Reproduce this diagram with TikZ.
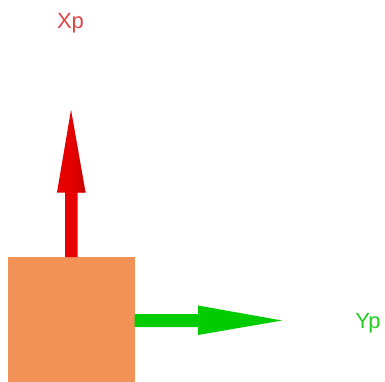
\documentclass[tikz,border=0pt]{standalone}
\usepackage{fontspec}
\setmainfont{Liberation Sans}
\definecolor{boxorange}{HTML}{F39256}
\definecolor{arrred}{HTML}{E60000}
\definecolor{arrgreen}{HTML}{00CC00}
\definecolor{lblred}{HTML}{E04545}
\definecolor{lblgreen}{HTML}{22CC22}
\tikzset{
  lbl/.style={inner sep=0pt, font=\fontsize{22}{26}\selectfont, anchor=base},
}
\begin{document}
\begin{tikzpicture}[x=1pt,y=-1pt]
\useasboundingbox (0,0) rectangle (385,382);
% body
\fill[boxorange] (7.5,257) rectangle (134.5,382);
% red arrow (Xp)
\fill[arrred] (65,257) -- (65,192.5) -- (57,192.5) -- (71,110) -- (85.5,192.5) -- (77.5,192.5) -- (77.5,257) -- cycle;
\shade[left color=arrred, right color=arrred!75!black, opacity=0.5] (71,257) -- (71,192.5) -- (85.5,192.5) -- (71,110) -- cycle;
% green arrow (Yp)
\fill[arrgreen] (134.5,314) -- (198,314) -- (198,305.5) -- (282,320.5) -- (198,335) -- (198,327) -- (134.5,327) -- cycle;
% labels
\node[lbl, text=lblred] (xp) at (70.5,29) {Xp};
\node[lbl, text=lblgreen] (yp) at (368,328) {Yp};
\end{tikzpicture}
\end{document}
